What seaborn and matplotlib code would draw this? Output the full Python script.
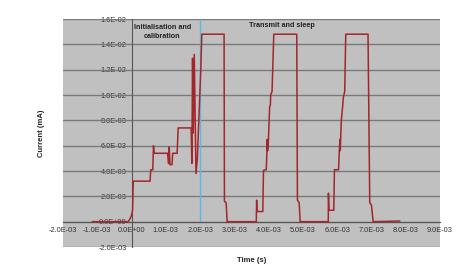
import numpy as np
import pandas as pd
import matplotlib
matplotlib.use("Agg")
import matplotlib.pyplot as plt
import seaborn as sns
from matplotlib.ticker import FuncFormatter, MultipleLocator

# Data (time in ms, current in units of 1E-03)
time_ms = [-1.15, -0.10, -0.05, 0.00, 0.03, 0.05, 0.54, 0.56, 0.62, 0.64, 0.66, 1.05,
           1.08, 1.10, 1.12, 1.18, 1.20, 1.33, 1.36, 1.74, 1.76, 1.78, 1.80, 1.83,
           1.88, 1.92, 1.97, 2.02, 2.05, 2.70, 2.71, 2.76, 2.79, 3.64, 3.65, 3.66,
           3.83, 3.85, 3.93, 3.95, 3.96, 3.97, 3.99, 4.03, 4.05, 4.06, 4.10, 4.15,
           4.82, 4.84, 4.89, 4.92, 5.74, 5.745, 5.76, 5.90, 5.92, 6.04, 6.06, 6.08,
           6.09, 6.12, 6.16, 6.18, 6.22, 6.25, 6.90, 6.95, 7.00, 7.05, 7.83]
current_e3 = [0.0, 0.0, 0.2, 0.5, 0.9, 3.2, 3.2, 4.1, 4.1, 6.0, 5.4, 5.4,
              4.6, 5.9, 4.5, 4.5, 5.4, 5.4, 7.4, 7.4, 4.6, 12.9, 7.0, 13.2,
              3.8, 5.0, 8.5, 12.0, 14.8, 14.8, 1.6, 1.5, 0.0, 0.0, 1.7, 0.8,
              0.8, 4.05, 4.1, 5.5, 6.5, 5.6, 6.2, 9.1, 9.2, 10.0, 10.3, 14.8,
              14.8, 1.7, 1.5, 0.0, 0.0, 2.25, 0.9, 0.9, 4.1, 4.1, 5.5, 6.5,
              5.6, 8.0, 9.1, 9.8, 10.3, 14.8, 14.8, 1.5, 1.3, 0.0, 0.05]

x_ticks = [-2e-3, -1e-3, 0.0, 1e-3, 2e-3, 3e-3, 4e-3, 5e-3, 6e-3, 7e-3, 8e-3, 9e-3]
y_ticks = [-2e-3, 0.0, 2e-3, 4e-3, 6e-3, 8e-3, 10e-3, 12e-3, 14e-3, 16e-3]

df = pd.DataFrame({"Time (s)": np.array(time_ms) * 1e-3,
                   "Current (mA)": np.array(current_e3) * 1e-3})

sns.set_style("white")
plt.rcParams['font.family'] = ['Liberation Sans', 'DejaVu Sans']

fig = plt.figure(figsize=(4.75, 2.76), dpi=100)
ax = fig.add_axes([63/475, 1 - 247/276, (440-63)/475, (247-19)/276])
ax.set_facecolor('#c0c0c0')

ax.set_xlim(-2e-3, 9e-3)
ax.set_ylim(-2e-3, 16e-3)
ax.set_yticks(y_ticks)
ax.set_xticks(x_ticks)
for yv in y_ticks:
    ax.axhline(yv, color='#7a7a7a', lw=1.0, zorder=1)

ax.vlines(2e-3, 0, 16e-3, color='#5ab8e8', lw=1.0, zorder=2)

sns.lineplot(data=df, x="Time (s)", y="Current (mA)", sort=False, estimator=None,
             color='#a3262a', lw=1.1, ax=ax, zorder=3)

for s in ['top', 'right']:
    ax.spines[s].set_visible(False)
ax.spines['left'].set_position(('data', 0))
ax.spines['bottom'].set_position(('data', 0))
ax.spines['left'].set_color('#555555')
ax.spines['bottom'].set_color('#555555')
ax.spines['left'].set_linewidth(0.8)
ax.spines['bottom'].set_linewidth(0.8)

fmt = FuncFormatter(lambda v, p: f"{v:.1E}")
ax.xaxis.set_major_formatter(fmt)
ax.yaxis.set_major_formatter(fmt)
ax.tick_params(axis='both', which='major', labelsize=5.3, colors='#333333',
               direction='inout', length=3, width=0.6, pad=2)

ax.set_xlabel("Time (s)", fontsize=5.5, fontweight='bold', color='#222222')
ax.set_ylabel("Current (mA)", fontsize=5.5, fontweight='bold', color='#222222')
ax.xaxis.set_label_coords((252-63)/377, -(257-247)/228)
ax.yaxis.set_label_coords(-(63-45)/377, 0.5)

ax.text(0.9e-3, 15.6e-3, "Initialisation and\ncalibration", fontsize=5.2,
        fontweight='bold', ha='center', va='top', color='#222222', linespacing=1.3)
ax.text(4.38e-3, 15.8e-3, "Transmit and sleep", fontsize=5.2,
        fontweight='bold', ha='center', va='top', color='#222222')

fig.savefig("out.png", dpi=100)
